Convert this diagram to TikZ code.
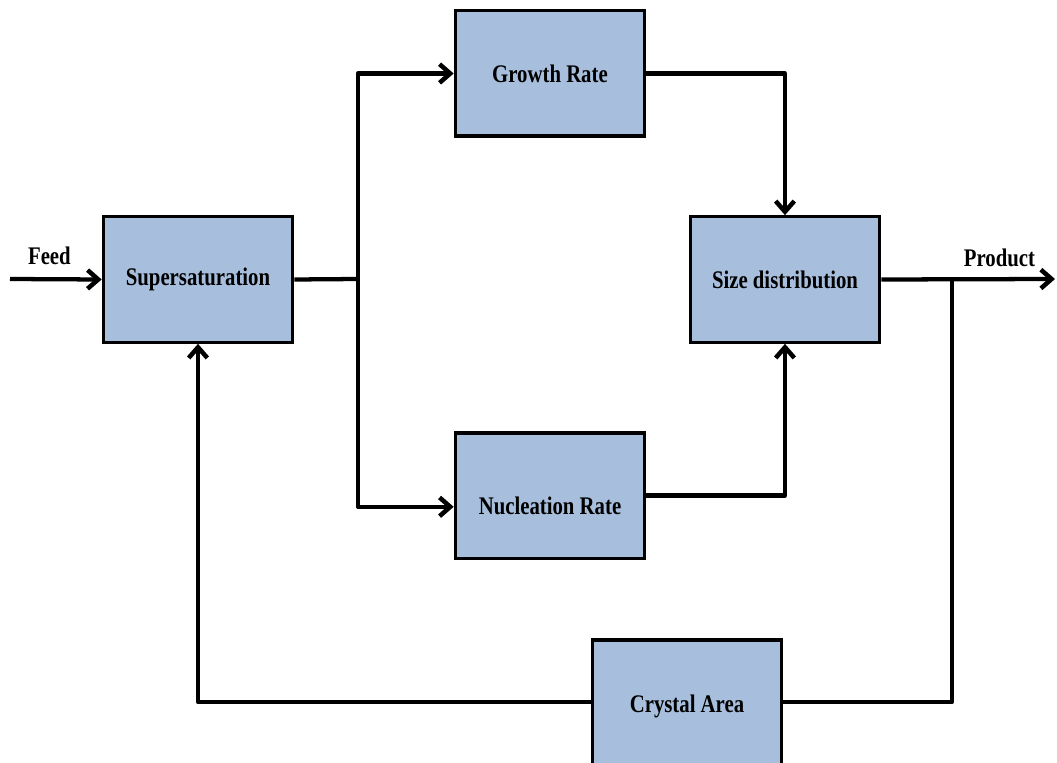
\documentclass[tikz,border=0pt]{standalone}
\usepackage{fontspec}
\setmainfont{Liberation Serif}[FakeStretch=0.82]
\usepackage{tikz}
\usetikzlibrary{arrows.meta,positioning}

\definecolor{blockblue}{RGB}{167,191,221}

\begin{document}
\begin{tikzpicture}[x=0.75pt, y=-0.75pt,
		every node/.style = {font=\fontsize{19}{22}\selectfont\bfseries},
		block/.style = {shape=rectangle, draw, line width=2.5pt, fill=blockblue, minimum width=142pt, minimum height=94pt, inner sep=0pt},
		flow/.style = {line width=3.2pt, line join=round},
		arr/.style = {flow, -{Straight Barb[length=8pt, width=14pt, line width=3.4pt]}}]
			\useasboundingbox (0,0) rectangle (1057,763);

			% the five blocks
			\node [block] (sup) at (198,279.5) {Supersaturation};
			\node [block] (growth) at (550,73.5) {Growth Rate};
			\node [block] (size) at (785,279.5) {Size distribution};
			\node [block, label={[yshift=-8pt]center:Nucleation Rate}] (nucl) at (550,495.5) {};
			\node [block, minimum height=99pt] (crystal) at (687,706) {Crystal Area};

			% branch points and free ends
			\coordinate (feed) at (10,279);
			\coordinate (split) at (358,279);
			\coordinate (tap) at (952,279);
			\coordinate (out) at (1055,279);

			% feed and product
			\draw [arr] (feed) -- node [above=6pt, pos=0.43] {Feed} (sup.west);
			\draw [arr] (size.east) -- node [above=4pt, pos=0.68] {Product} (out);

			% supersaturation drives both rates
			\draw [flow] (sup.east) -- (split);
			\draw [arr] (split) |- (growth.west);
			\draw [arr] (split) |- ([yshift=-8.5pt]nucl.west);

			% rates into the size distribution
			\draw [arr] (growth.east) -| (size.north);
			\draw [arr] (nucl.east) -| (size.south);

			% feedback through the crystal area
			\draw [flow] (tap) |- ([yshift=3pt]crystal.east);
			\draw [arr] ([yshift=3pt]crystal.west) -| (sup.south);
		\end{tikzpicture}
\end{document}
